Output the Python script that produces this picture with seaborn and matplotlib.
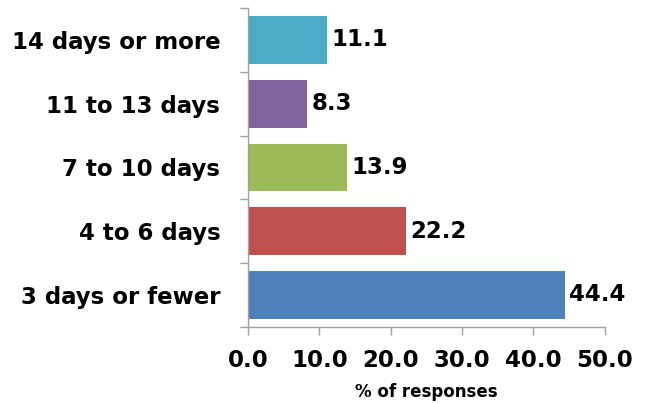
import matplotlib
matplotlib.use("Agg")
import matplotlib.pyplot as plt
from matplotlib.ticker import FixedLocator
import seaborn as sns
import pandas as pd
import numpy as np

categories = ["14 days or more", "11 to 13 days", "7 to 10 days", "4 to 6 days", "3 days or fewer"]
values = [11.1, 8.3, 13.9, 22.2, 44.4]
colors = ["#4BACC6", "#8064A2", "#9BBB59", "#C0504D", "#4F81BD"]
x_ticks = [0, 10, 20, 30, 40, 50]

sns.set_theme(style="white")
plt.rcParams["font.family"] = ["DejaVu Sans"]
plt.rcParams["text.color"] = "black"
plt.rcParams["xtick.color"] = "black"
plt.rcParams["ytick.color"] = "black"
plt.rcParams["axes.labelcolor"] = "black"

df = pd.DataFrame({"category": categories, "value": values})

fig = plt.figure(figsize=(6.51, 4.03), dpi=100)
ax = fig.add_axes([0.381, 0.189, 0.548, 0.791])

sns.barplot(data=df, x="value", y="category", hue="category", order=categories,
            palette=colors, width=0.75, legend=False, ax=ax, saturation=1,
            linewidth=0)

for patch, v in zip(ax.patches, values):
    y = patch.get_y() + patch.get_height() / 2
    ax.text(patch.get_width() + 0.6, y, f"{v:.1f}", va="center", ha="left",
            fontsize=16.5, fontweight="bold", color="black")

ax.set_xlim(0, 50)
ax.set_ylim(len(categories) - 0.5, -0.5)
ax.set_xticks(x_ticks)
ax.set_xticklabels([f"{t:.1f}" for t in x_ticks], fontsize=16.5, fontweight="bold")
ax.set_yticks(range(len(categories)))
ax.set_yticklabels(categories, fontsize=16.5, fontweight="bold")
ax.yaxis.set_minor_locator(FixedLocator(np.arange(-0.5, len(categories), 1.0)))
ax.tick_params(axis="y", which="major", length=0, pad=20, labelcolor="black")
ax.tick_params(axis="y", which="minor", length=6, color="#a0a0a0", width=1, direction="out", left=True)
ax.tick_params(axis="x", which="major", length=6, color="#a0a0a0", width=1, direction="out",
               bottom=True, pad=10, labelcolor="black")
ax.set_xlabel("% of responses", fontsize=12, fontweight="bold", labelpad=8, color="black")
ax.set_ylabel("")

for side in ["top", "right"]:
    ax.spines[side].set_visible(False)
for side in ["left", "bottom"]:
    ax.spines[side].set_color("#a0a0a0")
    ax.spines[side].set_linewidth(1)

fig.savefig("out.png", dpi=100)
